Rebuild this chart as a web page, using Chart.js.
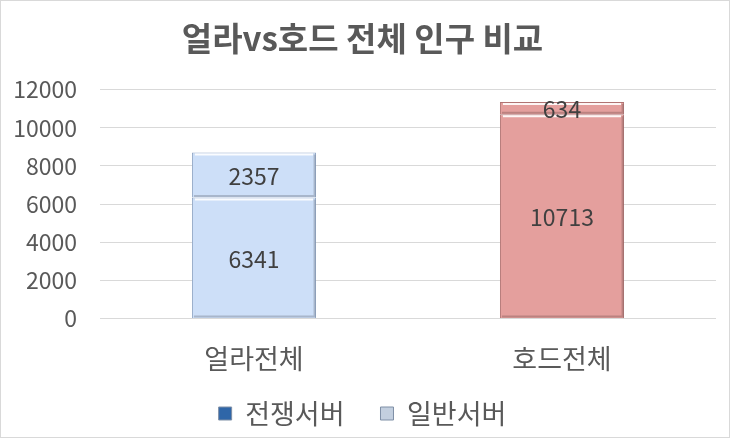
<!DOCTYPE html>
<html>
<head>
<meta charset="utf-8">
<script src="https://cdn.jsdelivr.net/npm/chart.js@4"></script>
<style>
  html, body { margin: 0; padding: 0; background: #fff; }
  #wrap { width: 730px; height: 438px; position: relative; box-sizing: border-box; border: 1px solid #d9d9d9; }
</style>
</head>
<body>
<div id="wrap"><canvas id="chart"></canvas></div>
<script>
const categories = ['얼라전체', '호드전체'];
const warServer = [6341, 10713];
const normalServer = [2357, 634];
const yTicks = [0, 2000, 4000, 6000, 8000, 10000, 12000];

const fillColors = ['#cddff8', '#e49f9d'];
const edgeColors = ['#93a8c6', '#b07473'];
const FONT = '"Noto Sans CJK KR", "Noto Sans", sans-serif';

// data labels centred in each segment + simple bevel edges
const barDecor = {
    id: 'barDecor',
    afterDatasetsDraw(chart) {
        const ctx = chart.ctx;
        chart.data.datasets.forEach((ds, di) => {
            chart.getDatasetMeta(di).data.forEach((bar, i) => {
                const left = bar.x - bar.width / 2;
                const right = bar.x + bar.width / 2;
                const top = Math.min(bar.y, bar.base);
                const bottom = Math.max(bar.y, bar.base);
                ctx.save();
                // highlight on top edge
                ctx.strokeStyle = 'rgba(255,255,255,0.9)';
                ctx.lineWidth = 2;
                ctx.beginPath();
                ctx.moveTo(left + 3, top + 2);
                ctx.lineTo(right - 3, top + 2);
                ctx.stroke();
                // shade on bottom / right
                ctx.strokeStyle = 'rgba(0,0,0,0.18)';
                ctx.lineWidth = 2;
                ctx.beginPath();
                ctx.moveTo(left + 2, bottom - 1.5);
                ctx.lineTo(right - 1.5, bottom - 1.5);
                ctx.lineTo(right - 1.5, top + 2);
                ctx.stroke();
                // label
                ctx.fillStyle = '#404040';
                ctx.font = '23px ' + FONT;
                ctx.textAlign = 'center';
                ctx.textBaseline = 'middle';
                ctx.fillText(String(ds.data[i]), bar.x, (top + bottom) / 2 + 1);
                ctx.restore();
            });
        });
    }
};

new Chart(document.getElementById('chart'), {
    type: 'bar',
    data: {
        labels: categories,
        datasets: [
            { label: '전쟁서버', data: warServer, backgroundColor: fillColors, borderColor: edgeColors, borderWidth: 1, legendColor: '#2f66a8' },
            { label: '일반서버', data: normalServer, backgroundColor: fillColors, borderColor: edgeColors, borderWidth: 1, legendColor: '#c3cfdf' }
        ]
    },
    options: {
        responsive: true,
        maintainAspectRatio: false,
        animation: false,
        layout: { padding: { left: 8, right: 13, top: 0, bottom: 0 } },
        datasets: { bar: { categoryPercentage: 1, barPercentage: 0.403 } },
        plugins: {
            title: {
                display: true,
                text: '얼라vs호드 전체 인구 비교',
                color: '#595959',
                font: { family: FONT, size: 33, weight: 'bold' },
                padding: { top: 18, bottom: 31 }
            },
            legend: {
                position: 'bottom',
                labels: {
                    color: '#595959',
                    font: { family: FONT, size: 27 },
                    boxWidth: 13,
                    boxHeight: 13,
                    padding: 9,
                    generateLabels(chart) {
                        const n = chart.data.datasets.length;
                        return chart.data.datasets.map((ds, i) => ({
                            // extra gap after every item but the last
                            text: i < n - 1 ? ds.label + '\u2002\u2002' : ds.label,
                            fillStyle: ds.legendColor,
                            strokeStyle: '#7f8fa6',
                            lineWidth: 1,
                            fontColor: '#595959',
                            datasetIndex: i
                        }));
                    }
                }
            },
            tooltip: { enabled: false }
        },
        scales: {
            x: {
                stacked: true,
                grid: { display: false },
                border: { display: false },
                ticks: { color: '#595959', font: { family: FONT, size: 27 }, padding: 16 }
            },
            y: {
                stacked: true,
                min: 0,
                max: 12000,
                afterBuildTicks(axis) { axis.ticks = yTicks.map(v => ({ value: v })); },
                afterFit(axis) { axis.width = 91; },
                grid: { color: '#d9d9d9', drawTicks: false },
                border: { display: false },
                ticks: {
                    color: '#595959',
                    font: { family: FONT, size: 23 },
                    padding: 23,
                    callback: v => String(v)
                }
            }
        }
    },
    plugins: [barDecor]
});
</script>
</body>
</html>
